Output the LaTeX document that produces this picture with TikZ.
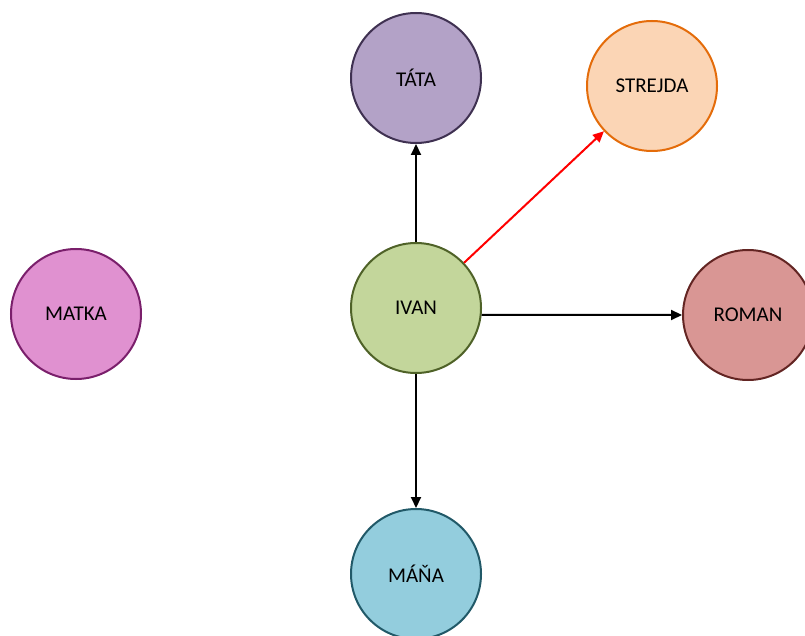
\documentclass[tikz,border=0pt]{standalone}
\usepackage{fontspec}
\setmainfont{Carlito}
\usetikzlibrary{arrows.meta}
\definecolor{tataF}{HTML}{B3A2C7}\definecolor{tataD}{HTML}{3F3151}
\definecolor{strF}{HTML}{FBD5B5}\definecolor{strD}{HTML}{E46C0A}
\definecolor{ivanF}{HTML}{C3D69B}\definecolor{ivanD}{HTML}{4F6228}
\definecolor{matF}{HTML}{E091D0}\definecolor{matD}{HTML}{7A1F6B}
\definecolor{romF}{HTML}{D99694}\definecolor{romD}{HTML}{632523}
\definecolor{manF}{HTML}{93CDDD}\definecolor{manD}{HTML}{215968}
\tikzset{
  person/.style={circle, minimum size=130pt, inner sep=0pt, line width=2pt, font=\fontsize{21}{25}\selectfont},
  link/.style={line width=2pt, -{Triangle[length=11pt,width=10pt]}},
}
\begin{document}
\begin{tikzpicture}[x=1pt,y=-1pt]
\useasboundingbox (0,0) rectangle (805,636);
\node[person, fill=tataF, draw=tataD] (tata) at (416,78) {TÁTA};
\node[person, fill=strF, draw=strD] (strejda) at (652,86) {STREJDA};
\node[person, fill=ivanF, draw=ivanD] (ivan) at (416,308) {IVAN};
\node[person, fill=matF, draw=matD] (matka) at (76,314) {MATKA};
\node[person, fill=romF, draw=romD] (roman) at (748,315) {ROMAN};
\node[person, fill=manF, draw=manD] (mana) at (416,574) {MÁŇA};
\draw[link] (ivan) -- (tata);
\draw[link, red] (ivan) -- (strejda);
\draw[link] (ivan.-6) -- (roman.west);
\draw[link] (ivan) -- (mana);
\end{tikzpicture}
\end{document}
